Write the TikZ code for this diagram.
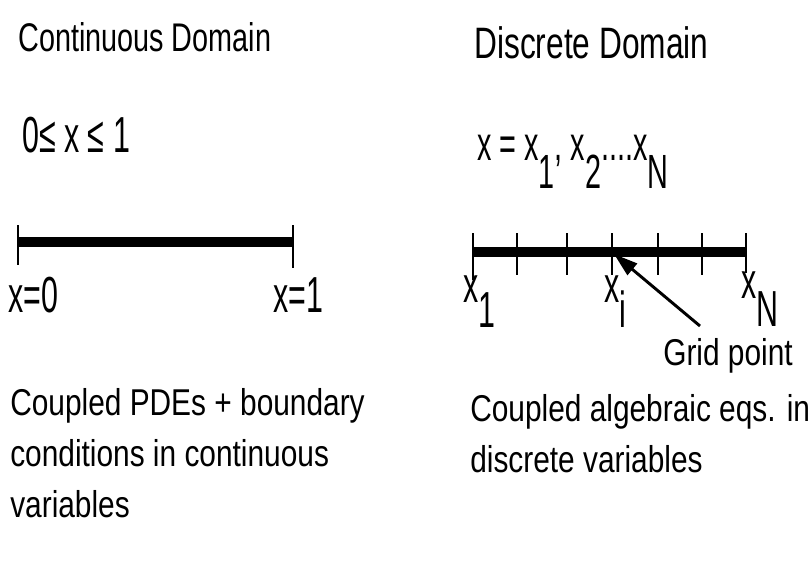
\documentclass[tikz,border=0pt]{standalone}
\usepackage{fontspec}
\setmainfont{Liberation Sans}
\newfontfamily\condfont{Liberation Sans}[FakeStretch=0.8]
\newfontfamily\headfont{Liberation Sans}[FakeStretch=0.72]
\newfontfamily\narrowfont{Liberation Sans}[FakeStretch=0.6]
\usetikzlibrary{arrows.meta}

\begin{document}
\begin{tikzpicture}[
  x=0.75pt, y=-0.75pt,
  heading/.style={
    anchor=base west, inner sep=0pt,
    font=\headfont\fontsize{30}{32}\selectfont
  },
  bodytext/.style={
    anchor=base west, inner sep=0pt, align=left,
    font=\condfont\fontsize{28}{38}\selectfont
  },
  mathlbl/.style={
    anchor=base west, inner sep=0pt,
    font=\narrowfont\fontsize{38}{40}\selectfont
  },
  axis/.style={line width=7.5pt},
  tickmark/.style={line width=1.6pt},
  conn/.style={-{Triangle[length=18pt,width=11pt]}, line width=2.2pt}
]
\useasboundingbox (0,0) rectangle (810,562);

% continuous side
\node[heading] (ctitle) at (18,51) {Continuous Domain};
\node[mathlbl] (crange) at (22,152) {0≤ x ≤ 1};

\coordinate (c0) at (18,242);
\coordinate (c1) at (293,242);
\draw[axis] (c0) -- (c1);
\draw[tickmark] (c0) ++(0,-17) -- ++(0,40);
\draw[tickmark] (c1) ++(0,-17) -- ++(0,43);

\node[mathlbl] (lc0) at (8,312)   {x=0};
\node[mathlbl] (lc1) at (273,312) {x=1};

% base of a multi-line node is its last line
\node[bodytext] (cdesc) at (10,517)
  {Coupled PDEs + boundary\\conditions in continuous\\variables};

% discrete side
\node[heading, font=\headfont\fontsize{33}{35}\selectfont] (dtitle) at (474,58) {Discrete Domain};
\node[mathlbl, font=\narrowfont\fontsize{36}{38}\selectfont] (dset) at (477,160)
  {x = x\raisebox{-21pt}{1}, x\raisebox{-21pt}{2}....x\raisebox{-21pt}{N}};

\coordinate (d1) at (473,252);
\coordinate (dN) at (746,252);
\draw[axis] (d1) -- (dN);
\foreach \tx in {517,567,612,658,702}
  \draw[tickmark] (\tx,233) -- (\tx,275);
\draw[tickmark] (d1) ++(0,-19) -- ++(0,47);
\draw[tickmark] (dN) ++(0,-19) -- ++(0,40);

\node[mathlbl] (lx1) at (463,302) {x\raisebox{-19pt}{1}};
\node[mathlbl] (lxi) at (604,302) {x\raisebox{-19pt}{i}};
\node[mathlbl] (lxN) at (741,298) {x\raisebox{-21pt}{N}};

\node[heading, font=\condfont\fontsize{28}{30}\selectfont] (gp) at (663,365) {Grid point};
\coordinate (xi) at (614,254);
\coordinate (gptail) at (700,326);
\draw[conn] (gptail) -- (xi);

\node[bodytext] (ddesc) at (470,472)
  {Coupled algebraic eqs. in\\discrete variables};
\end{tikzpicture}
\end{document}
